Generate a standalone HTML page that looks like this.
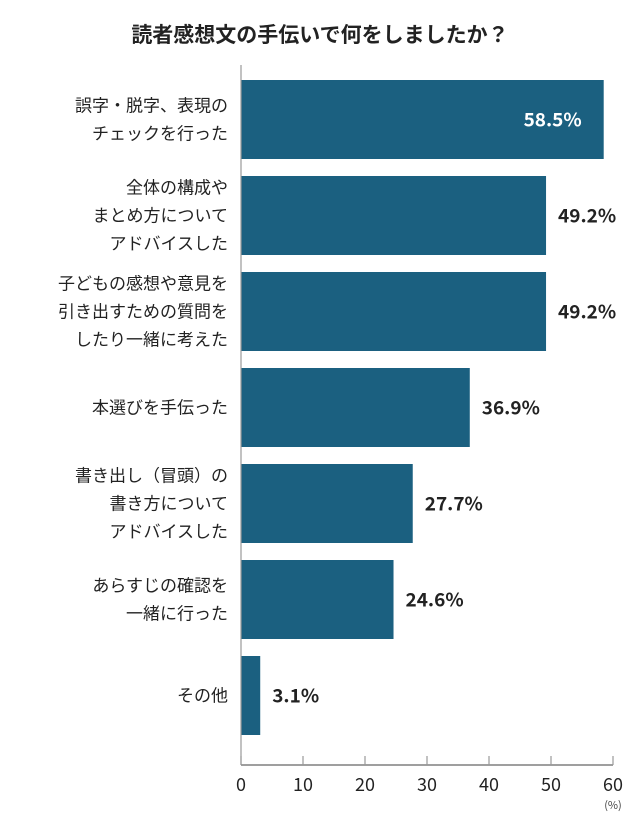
<!DOCTYPE html>
<html><head><meta charset="utf-8"><style>
body{margin:0;background:#fff;width:640px;height:823px;overflow:hidden;font-family:"Liberation Sans","Noto Sans CJK JP",sans-serif}
</style></head><body>
<svg id="c" width="640" height="823" xmlns="http://www.w3.org/2000/svg">
<text x="320" y="42" text-anchor="middle" font-size="21" font-weight="bold" fill="#222" font-family="Noto Sans CJK JP, sans-serif">読者感想文の手伝いで何をしましたか？</text>
</svg>
<script>
const categories=[["誤字・脱字、表現の","チェックを行った"],["全体の構成や","まとめ方について","アドバイスした"],["子どもの感想や意見を","引き出すための質問を","したり一緒に考えた"],["本選びを手伝った"],["書き出し（冒頭）の","書き方について","アドバイスした"],["あらすじの確認を","一緒に行った"],["その他"]];
const values=[58.5,49.2,49.2,36.9,27.7,24.6,3.1];
const tickLabels=[0,10,20,30,40,50,60];
const svg=document.getElementById('c');const NS="http://www.w3.org/2000/svg";
const x0=241,x1=613,vmax=60,top0=80,pitch=96,bh=79,axisY=765;
const xs=v=>x0+(x1-x0)*v/vmax;
function mk(t,a,txt){const e=document.createElementNS(NS,t);for(const k in a)e.setAttribute(k,a[k]);if(txt!=null)e.textContent=txt;svg.appendChild(e);return e;}
values.forEach((v,i)=>{
 const y=top0+i*pitch;
 const r=mk('rect',{x:x0,y:y,width:xs(v)-x0,height:bh,fill:'#1b6080'});
 
 
 const inside=v>55;
 const t=mk('text',{x:inside?xs(v)-22:xs(v)+12,y:y+bh/2+7,'text-anchor':inside?'end':'start','font-size':19,'font-weight':'bold',fill:inside?'#fff':'#222','font-family':'Noto Sans CJK JP, sans-serif'},v.toFixed(1)+'%');
 
 
 const lines=categories[i],lh=28,cy=y+bh/2;
 lines.forEach((ln,j)=>{
  const l=mk('text',{x:228,y:cy+(j-(lines.length-1)/2)*lh+6,'text-anchor':'end','font-size':17,fill:'#222','font-family':'Noto Sans CJK JP, sans-serif'},ln);
  
  
 });
});
const ya=mk('line',{x1:x0,y1:65,x2:x0,y2:axisY,stroke:'#999','stroke-width':1.2});


const xa=mk('line',{x1:x0,y1:axisY,x2:x1,y2:axisY,stroke:'#666','stroke-width':1.2});


tickLabels.forEach(v=>{
 const tk=mk('line',{x1:xs(v),y1:axisY-9,x2:xs(v),y2:axisY,stroke:'#999','stroke-width':1.2});
 
 
 const tl=mk('text',{x:xs(v),y:791,'text-anchor':'middle','font-size':18,fill:'#222','font-family':'Noto Sans CJK JP, sans-serif'},String(v));
 
 
});
const u=mk('text',{x:613,y:809,'text-anchor':'middle','font-size':11,fill:'#444','font-family':'Noto Sans CJK JP, sans-serif'},'(%)');


</script>
</body></html>
